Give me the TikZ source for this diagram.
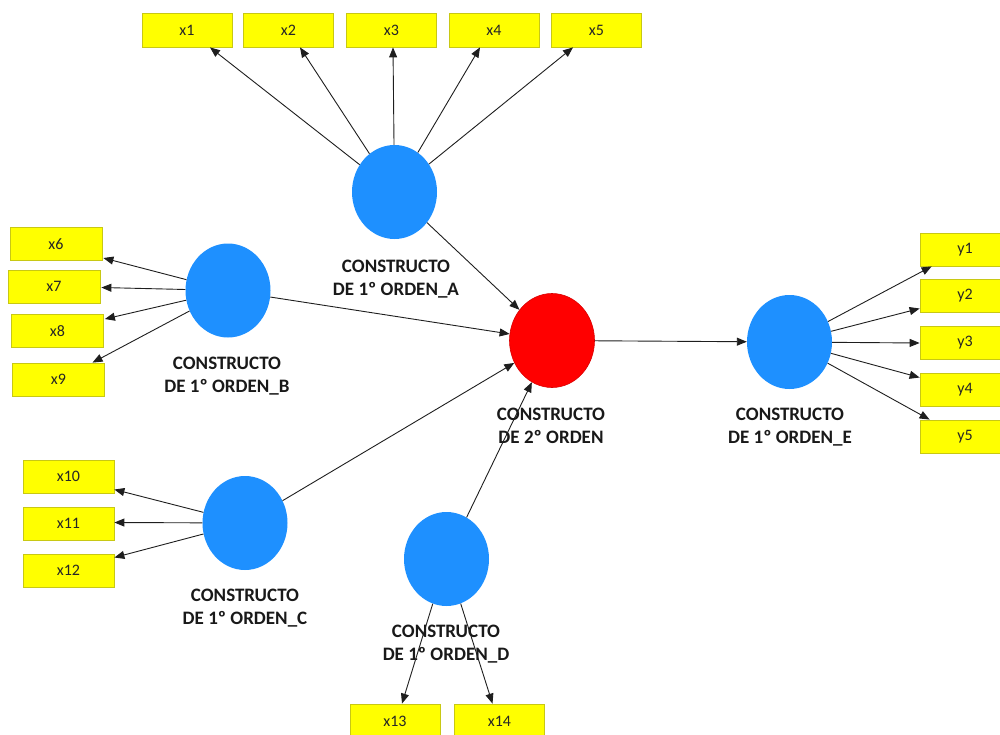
\documentclass[tikz,border=0pt]{standalone}
\usepackage{fontspec}
\setmainfont{Carlito}
\usetikzlibrary{arrows.meta,shapes.geometric,calc}
\definecolor{boxfill}{RGB}{255,255,0}
\definecolor{boxline}{RGB}{200,200,20}
\definecolor{lvblue}{RGB}{30,144,255}
\definecolor{lvred}{RGB}{255,0,0}
\definecolor{lnk}{RGB}{30,30,30}
\begin{document}
\begin{tikzpicture}[x=1pt,y=-1pt,
  indicator/.style={rectangle, draw=boxline, fill=boxfill, line width=0.8pt,
    minimum width=90pt, minimum height=33pt, inner sep=0pt,
    font=\fontsize{16}{18}\selectfont, text=black!85},
  latent/.style={ellipse, fill=lvblue, minimum width=85pt, minimum height=94pt, inner sep=0pt},
  second/.style={latent, fill=lvred, draw=red!85!black, line width=0.6pt},
  caption/.style={align=center, font=\fontsize{19}{23}\selectfont\bfseries, text=black!90},
  link/.style={draw=lnk, line width=0.9pt, -{Triangle[length=10pt,width=8pt]}}]
\useasboundingbox (0,0) rectangle (1000,734);
\clip (0,0) rectangle (1000,734);

% latent variables
\node[latent] (A) at (394.5,192) {};
\node[latent] (B) at (228,290.5) {};
\node[latent] (C) at (245,523) {};
\node[latent] (D) at (446.5,559) {};
\node[latent] (E) at (789.5,342) {};
\node[second] (R) at (552,340.5) {};

% captions
\node[caption] (lA) at (396,279) {CONSTRUCTO\\DE 1º ORDEN\_A};
\node[caption] (lB) at (227,376.5) {CONSTRUCTO\\DE 1º ORDEN\_B};
\node[caption] (lC) at (245,608.5) {CONSTRUCTO\\DE 1º ORDEN\_C};
\node[caption] (lD) at (446,644) {CONSTRUCTO\\DE 1º ORDEN\_D};
\node[caption] (lE) at (790,427.5) {CONSTRUCTO\\DE 1º ORDEN\_E};
\node[caption] (lR) at (551,426) {CONSTRUCTO\\DE 2º ORDEN};

% indicators
\node[indicator, minimum height=34pt] (x1) at (187,30) {x1};
\node[indicator, minimum height=34pt] (x2) at (288.5,30) {x2};
\node[indicator, minimum height=34pt] (x3) at (391.5,30) {x3};
\node[indicator, minimum height=34pt] (x4) at (494,30) {x4};
\node[indicator, minimum height=34pt] (x5) at (596.5,30) {x5};
\node[indicator, minimum width=92pt] (x6) at (56,244) {x6};
\node[indicator, minimum width=92pt] (x7) at (54,286.5) {x7};
\node[indicator, minimum width=92pt] (x8) at (57.5,331) {x8};
\node[indicator, minimum width=92pt] (x9) at (58.5,379.5) {x9};
\node[indicator, minimum width=91pt] (x10) at (68.5,476.5) {x10};
\node[indicator, minimum width=91pt] (x11) at (68.5,523.5) {x11};
\node[indicator, minimum width=91pt] (x12) at (68.5,570.5) {x12};
\node[indicator, minimum height=34pt] (x13) at (395,721) {x13};
\node[indicator, minimum height=34pt] (x14) at (499.5,721) {x14};
\node[indicator] (y1) at (965,249.5) {y1};
\node[indicator] (y2) at (965,295.5) {y2};
\node[indicator] (y3) at (965,343) {y3};
\node[indicator] (y4) at (965,389.5) {y4};
\node[indicator] (y5) at (965,436.5) {y5};

% loadings of A
\draw[link] (A) -- ($(x1.south)+(23,0)$);
\draw[link] (A) -- ($(x2.south)+(11.5,0)$);
\draw[link] (A) -- ($(x3.south)+(1.5,0)$);
\draw[link] (A) -- ($(x4.south)+(-14,0)$);
\draw[link] (A) -- ($(x5.south)+(-23.5,0)$);

% loadings of B
\draw[link] (B) -- ($(x6.east)+(1,14)$);
\draw[link] (B) -- ($(x7.east)+(1,1)$);
\draw[link] (B) -- ($(x8.east)+(1,-12)$);
\draw[link] (B) -- ($(x9.north)+(34,0)$);

% loadings of C
\draw[link] (C) -- ($(x10.east)+(0,13)$);
\draw[link] (C) -- ($(x11.east)+(0,-1)$);
\draw[link] (C) -- ($(x12.east)+(0,-13)$);

% loadings of D
\draw[link] (D) -- ($(x13.north)+(7,0)$);
\draw[link] (D) -- ($(x14.north)+(-7,0)$);

% loadings of E
\draw[link] (E) -- ($(y1.south west)+(12,0)$);
\draw[link] (E) -- ($(y2.west)+(0,13)$);
\draw[link] (E) -- (y3.west);
\draw[link] (E) -- ($(y4.west)+(0,-12)$);
\draw[link] (E) -- ($(y5.north west)+(10,0)$);

% structural paths
\draw[link] (A) -- (R);
\draw[link] (B) -- (R);
\draw[link] (C) -- (R);
\draw[link] (D) -- (R);
\draw[link] (R) -- (E);
\end{tikzpicture}
\end{document}
